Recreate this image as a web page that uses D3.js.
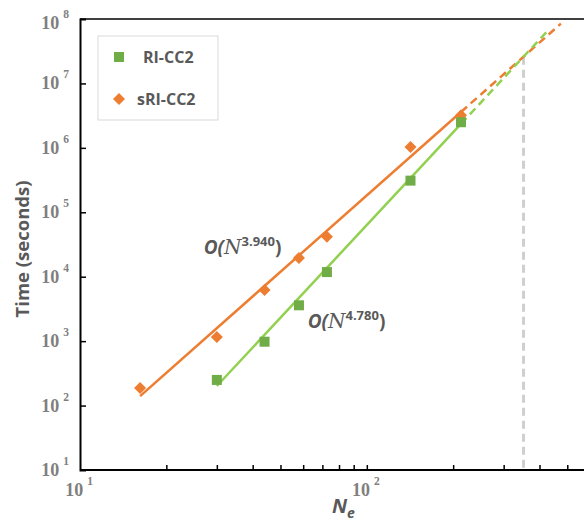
<!DOCTYPE html>
<html>
<head>
<meta charset="utf-8">
<script src="https://cdn.jsdelivr.net/npm/d3@7"></script>
<style>
  body { margin: 0; background: #fff; }
  svg { display: block; }
</style>
</head>
<body>
<svg id="chart"></svg>
<script>
// data
const riN = [30, 44, 58, 72.6, 142, 213];
const riTime = [250, 980, 3600, 11800, 310000, 2500000];
const sriN = [16.2, 30, 44, 58, 72.6, 142, 213];
const sriTime = [188, 1160, 6240, 19600, 41700, 1030000, 3200000];

// power law fits  t = 10^logA * N^exp
const fitNames = ["sRI-CC2", "RI-CC2"];
const fitExp = [3.940, 4.780];
const fitLogA = [-2.618, -4.757];
const fitEnd = [475, 425];      // where the dashed extrapolation stops
const fitLabel = ["3.940", "4.780"];
const fitLabelAt = [[27.0, 23400], [62.2, 1660]];

const yTicks = [1, 2, 3, 4, 5, 6, 7, 8];   // powers of ten
const xTicks = [20, 30, 40, 50, 60, 70, 80, 90, 100, 200, 300, 400, 500];
const xLabelPow = [1, 2];

const W = 584, H = 527;
const mLeft = 80, mTop = 19, mBottom = 470;

const orange = "#ed7d31", greenMark = "#70ad47", greenLine = "#92d050";
const grey = "#595959", tickGrey = "#7f7f7f";

const svg = d3.select("#chart").attr("width", W).attr("height", H);

const x = d3.scaleLog().domain([10, 600]).range([mLeft, 590]);
const y = d3.scaleLog().domain([10, 1e8]).range([mBottom, mTop]);

// frame: top line, left axis, bottom axis
svg.append("line")
  .attr("x1", mLeft).attr("x2", W).attr("y1", mTop).attr("y2", mTop)
  .attr("stroke", "#000").attr("stroke-width", 1.5);

const yAxis = svg.append("g")
  .attr("transform", `translate(${mLeft},0)`)
  .call(d3.axisLeft(y).tickValues(yTicks.slice(1, -1).map(p => Math.pow(10, p))).tickSize(-6).tickFormat(""));
yAxis.select(".domain").attr("stroke-width", 2);
yAxis.selectAll(".tick line").attr("stroke-width", 1.5);

const xAxis = svg.append("g")
  .attr("transform", `translate(0,${mBottom})`)
  .call(d3.axisBottom(x).tickValues(xTicks).tickSize(-5).tickFormat(""));
xAxis.select(".domain").attr("stroke-width", 2).attr("d", `M${mLeft},0H${W}`);
xAxis.selectAll(".tick line").attr("stroke-width", 1.5);

// tick labels 10^k
const yl = svg.append("g")
  .attr("font-family", "'Liberation Serif', serif")
  .attr("font-weight", "bold")
  .attr("fill", tickGrey);
yTicks.forEach(p => {
  const t = yl.append("text")
    .attr("x", 69).attr("y", y(Math.pow(10, p)) + 6 + (p === 8 ? 4 : 0))
    .attr("text-anchor", "end");
  t.append("tspan").attr("font-size", 18).text("10");
  t.append("tspan").attr("font-size", 11.5).attr("dx", 4).attr("dy", -11).text(p);
});

xLabelPow.forEach(p => {
  const t = yl.append("text")
    .attr("x", x(Math.pow(10, p)) - 1).attr("y", mBottom + 26)
    .attr("text-anchor", "middle");
  t.append("tspan").attr("font-size", 18).text("10");
  t.append("tspan").attr("font-size", 11.5).attr("dx", 4).attr("dy", -11).text(p);
});

// axis titles
svg.append("text")
  .attr("transform", `translate(29,249) rotate(-90)`)
  .attr("text-anchor", "middle")
  .attr("font-family", "'Open Sans', sans-serif")
  .attr("font-weight", "bold")
  .attr("font-size", 18.5)
  .attr("fill", grey)
  .text("Time (seconds)");

const xt = svg.append("text")
  .attr("x", 332).attr("y", 513)
  .attr("font-family", "'Open Sans', sans-serif")
  .attr("font-weight", "bold").attr("font-style", "italic")
  .attr("fill", grey);
xt.append("tspan").attr("font-size", 20).text("N");
xt.append("tspan").attr("font-size", 14).attr("dy", 5).text("e");

// fit lines
const fit = (i, n) => Math.pow(10, fitLogA[i] + fitExp[i] * Math.log10(n));
const line = d3.line().x(d => x(d[0])).y(d => y(d[1]));
const fitData = [sriN, riN];
const fitColor = [orange, greenLine];

// crossover of the two extrapolations
const crossN = Math.pow(10, (fitLogA[1] - fitLogA[0]) / (fitExp[0] - fitExp[1]));
svg.append("line")
  .attr("x1", x(crossN)).attr("x2", x(crossN))
  .attr("y1", y(fit(0, crossN))).attr("y2", mBottom - 1)
  .attr("stroke", "#d0cece").attr("stroke-width", 3)
  .attr("stroke-dasharray", "8,5");

fitNames.forEach((name, i) => {
  const n0 = d3.min(fitData[i]), n1 = d3.max(fitData[i]);
  svg.append("path")
    .attr("d", line([[n0, fit(i, n0)], [n1, fit(i, n1)]]))
    .attr("stroke", fitColor[i]).attr("stroke-width", 2.5).attr("fill", "none");
  svg.append("path")
    .attr("d", line([[n1, fit(i, n1)], [fitEnd[i], fit(i, fitEnd[i])]]))
    .attr("stroke", fitColor[i]).attr("stroke-width", 2.5).attr("fill", "none")
    .attr("stroke-dasharray", "8,5");
});

// markers
const diamond = d3.symbol().type(d3.symbolSquare).size(72);
svg.append("g").selectAll("path")
  .data(sriN.map((n, i) => [n, sriTime[i]]))
  .join("path")
  .attr("d", diamond)
  .attr("transform", d => `translate(${x(d[0])},${y(d[1])}) rotate(45)`)
  .attr("fill", orange);

svg.append("g").selectAll("rect")
  .data(riN.map((n, i) => [n, riTime[i]]))
  .join("rect")
  .attr("x", d => x(d[0]) - 5).attr("y", d => y(d[1]) - 5)
  .attr("width", 10).attr("height", 10)
  .attr("fill", greenMark);

// O(N^k) annotations
fitLabel.forEach((lab, i) => {
  const t = svg.append("text")
    .attr("x", x(fitLabelAt[i][0])).attr("y", y(fitLabelAt[i][1]) + 1)
    .attr("fill", grey)
    .attr("font-family", "'Open Sans', sans-serif")
    .attr("font-weight", "bold");
  t.append("tspan").attr("font-size", 19).attr("font-style", "italic").text("O(");
  t.append("tspan").attr("font-size", 20).attr("font-style", "italic")
    .attr("font-weight", "normal").attr("font-family", "'DejaVu Serif', serif").text("N");
  t.append("tspan").attr("font-size", 13).attr("dy", -8).text(lab);
  t.append("tspan").attr("font-size", 19).attr("dy", 8).text(")");
});

// legend
const lg = svg.append("g");
lg.append("rect")
  .attr("x", 98).attr("y", 36).attr("width", 120).attr("height", 84)
  .attr("fill", "#fff").attr("stroke", "#d9d9d9").attr("stroke-width", 1);
const legendItems = [["RI-CC2", "sq"], ["sRI-CC2", "di"]];
legendItems.forEach((it, i) => {
  const cy = 57 + i * 42;
  if (it[1] === "sq") {
    lg.append("rect").attr("x", 114).attr("y", cy - 5).attr("width", 10).attr("height", 10).attr("fill", greenMark);
  } else {
    lg.append("path").attr("d", diamond).attr("transform", `translate(119,${cy}) rotate(45)`).attr("fill", orange);
  }
  lg.append("text")
    .attr("x", i === 0 ? 143 : 137).attr("y", cy + 6)
    .attr("font-family", "'Open Sans', sans-serif")
    .attr("font-weight", "bold").attr("font-size", 16)
    .attr("fill", grey).text(it[0]);
});
</script>
</body>
</html>
